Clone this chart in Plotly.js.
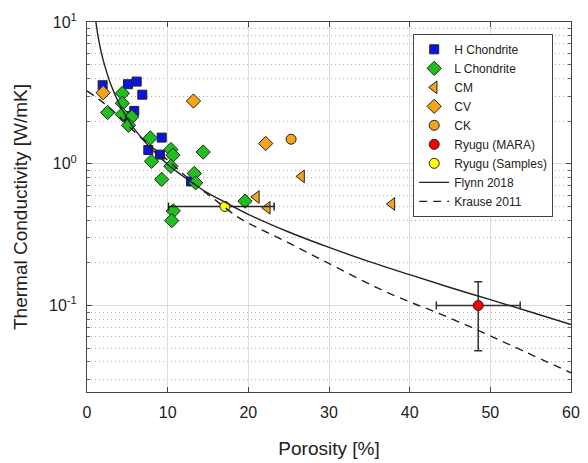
<!DOCTYPE html>
<html>
<head>
<meta charset="utf-8">
<script src="https://cdn.plot.ly/plotly-3.0.1.min.js"></script>
<style>html,body{margin:0;padding:0;background:#fff;}#chart{width:588px;height:463px;}</style>
</head>
<body>
<div id="chart"></div>
<script>
// H Chondrite
const hX = [1.94, 5.08, 6.16, 6.86, 5.86, 4.95, 9.26, 7.6, 9.05, 12.9];
const hY = [3.58, 3.64, 3.8, 3.07, 2.36, 2.17, 1.53, 1.25, 1.16, 0.75];
// L Chondrite
const lX = [4.38, 4.38, 2.56, 4.38, 5.54, 5.15, 7.85, 10.4, 10.65, 8.0, 14.4, 10.4, 9.26, 13.3, 13.47, 19.59, 10.7, 10.5];
const lY = [3.14, 2.67, 2.3, 2.23, 2.14, 1.87, 1.52, 1.26, 1.15, 1.04, 1.21, 0.96, 0.776, 0.855, 0.734, 0.545, 0.465, 0.397];
// CM
const cmX = [26.6, 21.0, 22.35, 37.8];
const cmY = [0.815, 0.583, 0.489, 0.52];
// CV
const cvX = [2.0, 13.2, 22.15];
const cvY = [3.17, 2.77, 1.39];
// CK
const ckX = [25.3];
const ckY = [1.49];
// Ryugu (MARA)
const maraX = [48.5];
const maraY = [0.1];
const maraXErr = [5.2];
const maraYErrPlus = [0.047];
const maraYErrMinus = [0.052];
// Ryugu (Samples)
const sampX = [17.1];
const sampY = [0.5];
const sampXErrPlus = [6.1];
const sampXErrMinus = [7.0];
// Flynn 2018 curve
const flynnX = [1.1, 1.5, 2, 3, 4, 5, 6, 8, 10, 12, 15, 17, 20, 25, 30, 35, 40, 45, 50, 55, 60];
const flynnY = [10, 7.2, 5.4, 3.56, 2.64, 2.09, 1.72, 1.27, 0.99, 0.81, 0.62, 0.54, 0.44, 0.33, 0.257, 0.204, 0.165, 0.134, 0.11, 0.09, 0.0735];
// Krause 2011 curve
const krauseX = [0, 2, 4, 6, 8, 10, 12, 14, 16, 19, 22, 25, 28, 31, 36, 40, 43, 48.7, 54, 60];
const krauseY = [3.27, 2.7, 2.15, 1.66, 1.32, 1.06, 0.84, 0.67, 0.55, 0.41, 0.335, 0.277, 0.226, 0.185, 0.133, 0.106, 0.091, 0.066, 0.048, 0.0335];
// axis ticks
const xTicks = [0, 10, 20, 30, 40, 50, 60];
const yTicks = [0.1, 1, 10];
const yTickText = ['10<sup>-1</sup>', '10<sup>0</sup>', '10<sup>1</sup>'];
const yMinorTicks = [0.03, 0.04, 0.05, 0.06, 0.07, 0.08, 0.09, 0.2, 0.3, 0.4, 0.5, 0.6, 0.7, 0.8, 0.9, 2, 3, 4, 5, 6, 7, 8, 9];

const edge = {color: '#222', width: 1};
const orange = '#f7a21b';
const traces = [
  {x: hX, y: hY, name: 'H Chondrite', type: 'scatter', mode: 'markers',
   marker: {symbol: 'square', size: 9, color: '#0a14e6', line: edge}},
  {x: lX, y: lY, name: 'L Chondrite', type: 'scatter', mode: 'markers',
   marker: {symbol: 'diamond', size: 11, color: '#1fbf1f', line: edge}},
  {x: cmX, y: cmY, name: 'CM', type: 'scatter', mode: 'markers',
   marker: {symbol: 'triangle-left', size: 11, color: orange, line: edge}},
  {x: cvX, y: cvY, name: 'CV', type: 'scatter', mode: 'markers',
   marker: {symbol: 'diamond', size: 11, color: orange, line: edge}},
  {x: ckX, y: ckY, name: 'CK', type: 'scatter', mode: 'markers',
   marker: {symbol: 'circle', size: 10, color: orange, line: edge}},
  {x: maraX, y: maraY, name: 'Ryugu (MARA)', type: 'scatter', mode: 'markers',
   marker: {symbol: 'circle', size: 10, color: '#ff0000', line: edge},
   error_x: {type: 'data', array: maraXErr, color: '#333', thickness: 1.5, width: 4},
   error_y: {type: 'data', symmetric: false, array: maraYErrPlus, arrayminus: maraYErrMinus, color: '#333', thickness: 1.5, width: 4}},
  {x: sampX, y: sampY, name: 'Ryugu (Samples)', type: 'scatter', mode: 'markers',
   marker: {symbol: 'circle', size: 10, color: '#ffff00', line: edge},
   error_x: {type: 'data', symmetric: false, array: sampXErrPlus, arrayminus: sampXErrMinus, color: '#222', thickness: 1.5, width: 4}},
  {x: flynnX, y: flynnY, name: 'Flynn 2018', type: 'scatter', mode: 'lines',
   line: {color: '#222', width: 1.4, shape: 'spline'}},
  {x: krauseX, y: krauseY, name: 'Krause 2011', type: 'scatter', mode: 'lines',
   line: {color: '#222', width: 1.4, dash: '8px,6px', shape: 'spline'}}
];

const layout = {
  width: 588, height: 463,
  margin: {l: 87, r: 17, t: 22, b: 71},
  paper_bgcolor: '#fff', plot_bgcolor: '#fff',
  font: {family: '"Liberation Sans", Arial, sans-serif', color: '#222'},
  showlegend: true,
  legend: {x: 0.674, y: 0.968, xanchor: 'left', yanchor: 'top',
    bgcolor: '#fff', bordercolor: '#444', borderwidth: 1,
    font: {size: 12, color: '#222'}, tracegroupgap: 0},
  xaxis: {
    range: [0, 60], tickmode: 'array', tickvals: xTicks,
    showgrid: true, gridcolor: '#dcdcdc', gridwidth: 1,
    zeroline: false, showline: true, mirror: 'ticks', linecolor: '#444', linewidth: 1,
    ticks: 'inside', ticklen: 5, tickcolor: '#444',
    tickfont: {size: 16, color: '#222'}, ticklabelstandoff: 6,
    title: {text: 'Porosity [%]', font: {size: 19, color: '#222'}, standoff: 21},
    automargin: false
  },
  yaxis: {
    type: 'log', range: [-1.61, 1],
    tickmode: 'array', tickvals: yTicks, ticktext: yTickText,
    showgrid: true, gridcolor: '#dcdcdc', gridwidth: 1,
    zeroline: false, showline: true, mirror: 'ticks', linecolor: '#444', linewidth: 1,
    ticks: 'inside', ticklen: 5, tickcolor: '#444',
    tickfont: {size: 16, color: '#222'},
    ticklabelstandoff: 6,
    minor: {tickmode: 'array', tickvals: yMinorTicks, ticks: 'inside', ticklen: 3, tickcolor: '#666',
      showgrid: true, griddash: '1px,3px', gridcolor: '#b0b0b0', gridwidth: 1},
    title: {text: 'Thermal Conductivity [W/mK]', font: {size: 19, color: '#222'}, standoff: 16},
    automargin: false
  }
};

Plotly.newPlot('chart', traces, layout, {displayModeBar: false, staticPlot: true});
</script>
</body>
</html>
